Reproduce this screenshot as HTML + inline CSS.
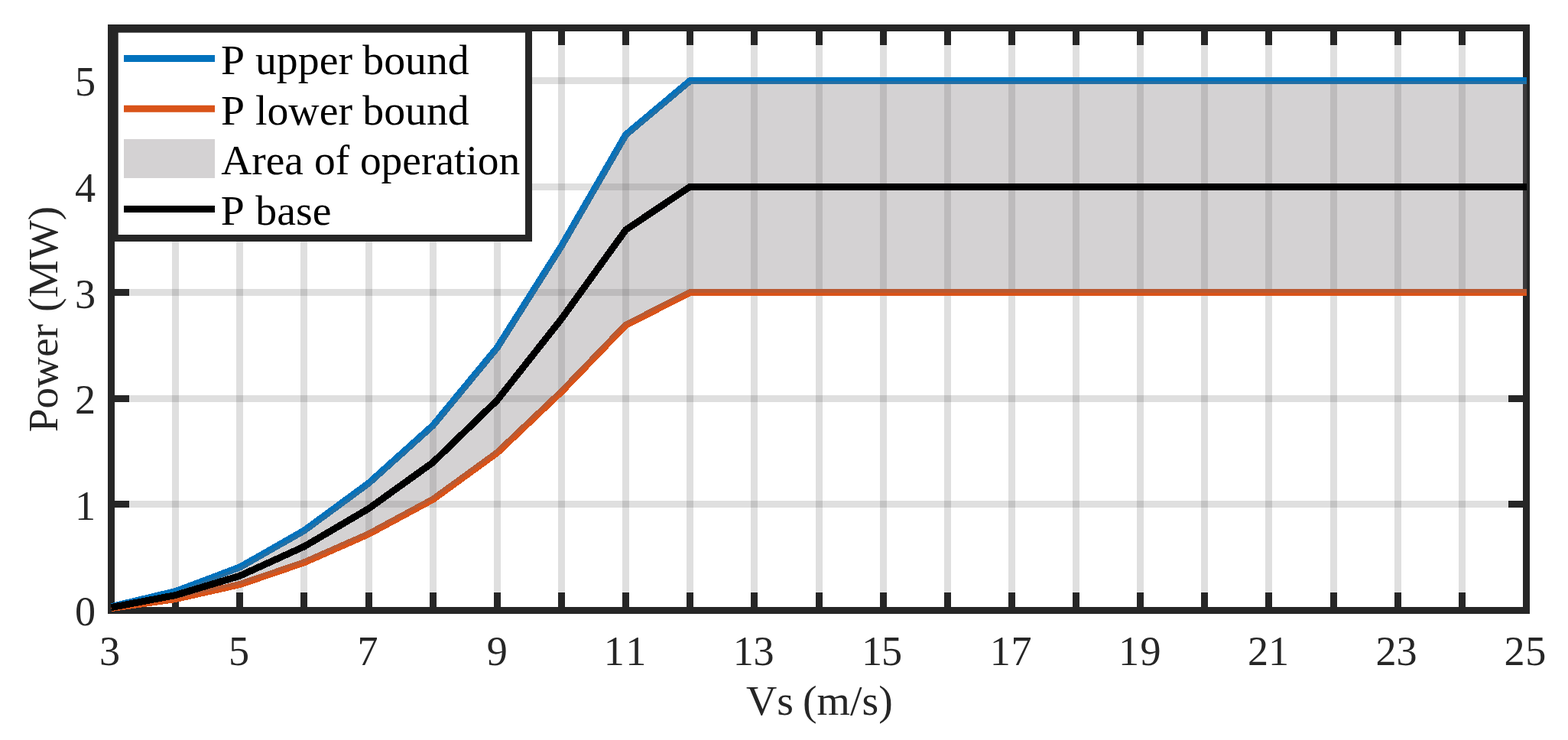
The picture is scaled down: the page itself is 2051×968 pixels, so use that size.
<!DOCTYPE html>
<html lang="en"><head><meta charset="utf-8"><title>Power vs wind speed</title>
<style>
html,body{margin:0;padding:0;background:#fff;}
body{width:2051px;height:968px;overflow:hidden;}
svg{display:block;}
text{font-family:"Liberation Serif","Times New Roman",serif;font-size:54.17px;white-space:pre;}
.tk{fill:#262626;}
.lg{fill:#000;}
</style></head><body>
<svg width="2051" height="968" viewBox="0 0 2051 968">
<rect width="2051" height="968" fill="#fff"/>
<g stroke="#262626" stroke-opacity="0.15" stroke-width="9" fill="none">
<line x1="229.5" y1="36.5" x2="229.5" y2="798.5"/>
<line x1="313.5" y1="36.5" x2="313.5" y2="798.5"/>
<line x1="397.5" y1="36.5" x2="397.5" y2="798.5"/>
<line x1="482.5" y1="36.5" x2="482.5" y2="798.5"/>
<line x1="566.5" y1="36.5" x2="566.5" y2="798.5"/>
<line x1="650.5" y1="36.5" x2="650.5" y2="798.5"/>
<line x1="734.5" y1="36.5" x2="734.5" y2="798.5"/>
<line x1="818.5" y1="36.5" x2="818.5" y2="798.5"/>
<line x1="902.5" y1="36.5" x2="902.5" y2="798.5"/>
<line x1="986.5" y1="36.5" x2="986.5" y2="798.5"/>
<line x1="1071.5" y1="36.5" x2="1071.5" y2="798.5"/>
<line x1="1155.5" y1="36.5" x2="1155.5" y2="798.5"/>
<line x1="1239.5" y1="36.5" x2="1239.5" y2="798.5"/>
<line x1="1323.5" y1="36.5" x2="1323.5" y2="798.5"/>
<line x1="1407.5" y1="36.5" x2="1407.5" y2="798.5"/>
<line x1="1491.5" y1="36.5" x2="1491.5" y2="798.5"/>
<line x1="1575.5" y1="36.5" x2="1575.5" y2="798.5"/>
<line x1="1659.5" y1="36.5" x2="1659.5" y2="798.5"/>
<line x1="1744.5" y1="36.5" x2="1744.5" y2="798.5"/>
<line x1="1828.5" y1="36.5" x2="1828.5" y2="798.5"/>
<line x1="1912.5" y1="36.5" x2="1912.5" y2="798.5"/>
<line x1="145.5" y1="659.5" x2="1996.5" y2="659.5"/>
<line x1="145.5" y1="521.5" x2="1996.5" y2="521.5"/>
<line x1="145.5" y1="382.5" x2="1996.5" y2="382.5"/>
<line x1="145.5" y1="244.5" x2="1996.5" y2="244.5"/>
<line x1="145.5" y1="105.5" x2="1996.5" y2="105.5"/>
</g>
<g stroke="#262626" stroke-width="9" fill="none">
<line x1="229.5" y1="798.5" x2="229.5" y2="775.0"/>
<line x1="229.5" y1="36.5" x2="229.5" y2="59.0"/>
<line x1="313.5" y1="798.5" x2="313.5" y2="775.0"/>
<line x1="313.5" y1="36.5" x2="313.5" y2="59.0"/>
<line x1="397.5" y1="798.5" x2="397.5" y2="775.0"/>
<line x1="397.5" y1="36.5" x2="397.5" y2="59.0"/>
<line x1="482.5" y1="798.5" x2="482.5" y2="775.0"/>
<line x1="482.5" y1="36.5" x2="482.5" y2="59.0"/>
<line x1="566.5" y1="798.5" x2="566.5" y2="775.0"/>
<line x1="566.5" y1="36.5" x2="566.5" y2="59.0"/>
<line x1="650.5" y1="798.5" x2="650.5" y2="775.0"/>
<line x1="650.5" y1="36.5" x2="650.5" y2="59.0"/>
<line x1="734.5" y1="798.5" x2="734.5" y2="775.0"/>
<line x1="734.5" y1="36.5" x2="734.5" y2="59.0"/>
<line x1="818.5" y1="798.5" x2="818.5" y2="775.0"/>
<line x1="818.5" y1="36.5" x2="818.5" y2="59.0"/>
<line x1="902.5" y1="798.5" x2="902.5" y2="775.0"/>
<line x1="902.5" y1="36.5" x2="902.5" y2="59.0"/>
<line x1="986.5" y1="798.5" x2="986.5" y2="775.0"/>
<line x1="986.5" y1="36.5" x2="986.5" y2="59.0"/>
<line x1="1071.5" y1="798.5" x2="1071.5" y2="775.0"/>
<line x1="1071.5" y1="36.5" x2="1071.5" y2="59.0"/>
<line x1="1155.5" y1="798.5" x2="1155.5" y2="775.0"/>
<line x1="1155.5" y1="36.5" x2="1155.5" y2="59.0"/>
<line x1="1239.5" y1="798.5" x2="1239.5" y2="775.0"/>
<line x1="1239.5" y1="36.5" x2="1239.5" y2="59.0"/>
<line x1="1323.5" y1="798.5" x2="1323.5" y2="775.0"/>
<line x1="1323.5" y1="36.5" x2="1323.5" y2="59.0"/>
<line x1="1407.5" y1="798.5" x2="1407.5" y2="775.0"/>
<line x1="1407.5" y1="36.5" x2="1407.5" y2="59.0"/>
<line x1="1491.5" y1="798.5" x2="1491.5" y2="775.0"/>
<line x1="1491.5" y1="36.5" x2="1491.5" y2="59.0"/>
<line x1="1575.5" y1="798.5" x2="1575.5" y2="775.0"/>
<line x1="1575.5" y1="36.5" x2="1575.5" y2="59.0"/>
<line x1="1659.5" y1="798.5" x2="1659.5" y2="775.0"/>
<line x1="1659.5" y1="36.5" x2="1659.5" y2="59.0"/>
<line x1="1744.5" y1="798.5" x2="1744.5" y2="775.0"/>
<line x1="1744.5" y1="36.5" x2="1744.5" y2="59.0"/>
<line x1="1828.5" y1="798.5" x2="1828.5" y2="775.0"/>
<line x1="1828.5" y1="36.5" x2="1828.5" y2="59.0"/>
<line x1="1912.5" y1="798.5" x2="1912.5" y2="775.0"/>
<line x1="1912.5" y1="36.5" x2="1912.5" y2="59.0"/>
<line x1="145.5" y1="659.5" x2="169.0" y2="659.5"/>
<line x1="1996.5" y1="659.5" x2="1973.0" y2="659.5"/>
<line x1="145.5" y1="521.5" x2="169.0" y2="521.5"/>
<line x1="1996.5" y1="521.5" x2="1973.0" y2="521.5"/>
<line x1="145.5" y1="382.5" x2="169.0" y2="382.5"/>
<line x1="145.5" y1="244.5" x2="169.0" y2="244.5"/>
<line x1="145.5" y1="105.5" x2="169.0" y2="105.5"/>
<rect x="145.5" y="36.5" width="1851.0" height="762.0"/>
</g>
<clipPath id="c"><rect x="145.0" y="36.0" width="1852.0" height="768.0"/></clipPath>
<g clip-path="url(#c)" fill="none" stroke-width="9" stroke-linejoin="round" shape-rendering="crispEdges">
<polyline stroke="#0072BD" points="145.50,793.65 229.64,773.55 313.77,741.95 397.91,694.00 482.05,632.18 566.18,556.64 650.32,454.77 734.45,321.72 818.59,176.19 902.73,105.50 986.86,105.50 1071.00,105.50 1155.14,105.50 1239.27,105.50 1323.41,105.50 1407.55,105.50 1491.68,105.50 1575.82,105.50 1659.95,105.50 1744.09,105.50 1828.23,105.50 1912.36,105.50 1996.50,105.50"/>
<polyline stroke="#D95319" points="145.50,795.59 229.64,783.53 313.77,764.57 397.91,735.80 482.05,698.71 566.18,653.39 650.32,592.26 734.45,512.43 818.59,425.11 902.73,382.70 986.86,382.70 1071.00,382.70 1155.14,382.70 1239.27,382.70 1323.41,382.70 1407.55,382.70 1491.68,382.70 1575.82,382.70 1659.95,382.70 1744.09,382.70 1828.23,382.70 1912.36,382.70 1996.50,382.70"/>
<polygon fill="rgb(112,105,110)" fill-opacity="0.3" stroke="none" points="145.50,793.65 229.64,773.55 313.77,741.95 397.91,694.00 482.05,632.18 566.18,556.64 650.32,454.77 734.45,321.72 818.59,176.19 902.73,105.50 986.86,105.50 1071.00,105.50 1155.14,105.50 1239.27,105.50 1323.41,105.50 1407.55,105.50 1491.68,105.50 1575.82,105.50 1659.95,105.50 1744.09,105.50 1828.23,105.50 1912.36,105.50 1996.50,105.50 1996.50,382.70 1912.36,382.70 1828.23,382.70 1744.09,382.70 1659.95,382.70 1575.82,382.70 1491.68,382.70 1407.55,382.70 1323.41,382.70 1239.27,382.70 1155.14,382.70 1071.00,382.70 986.86,382.70 902.73,382.70 818.59,425.11 734.45,512.43 650.32,592.26 566.18,653.39 482.05,698.71 397.91,735.80 313.77,764.57 229.64,783.53 145.50,795.59"/>
<polyline stroke="#000" points="145.50,794.62 229.64,778.54 313.77,753.26 397.91,714.90 482.05,665.44 566.18,605.01 650.32,523.52 734.45,417.07 818.59,300.65 902.73,244.10 986.86,244.10 1071.00,244.10 1155.14,244.10 1239.27,244.10 1323.41,244.10 1407.55,244.10 1491.68,244.10 1575.82,244.10 1659.95,244.10 1744.09,244.10 1828.23,244.10 1912.36,244.10 1996.50,244.10"/>
</g>
<rect x="150.2" y="38.2" width="541.3" height="273.3" fill="#fff" stroke="#262626" stroke-width="9"/>
<line x1="162" y1="76.5" x2="281" y2="76.5" stroke="#0072BD" stroke-width="9"/>
<line x1="162" y1="142.2" x2="281" y2="142.2" stroke="#D95319" stroke-width="9"/>
<rect x="162" y="182" width="119" height="51" fill="rgb(112,105,110)" fill-opacity="0.3"/>
<line x1="162" y1="273.6" x2="281" y2="273.6" stroke="#000" stroke-width="9"/>
<text class="lg" transform="translate(0,97.1) scale(1.03,1)"><tspan x="280.49">P</tspan> <tspan x="324.27">upper</tspan> <tspan x="460.49">bound</tspan></text>
<text class="lg" transform="translate(0,162.8) scale(1.03,1)"><tspan x="280.49">P</tspan> <tspan x="324.27">lower</tspan> <tspan x="460.49">bound</tspan></text>
<text class="lg" transform="translate(0,228.4) scale(1.024,1)"><tspan x="282.42">Area</tspan> <tspan x="401.46">of</tspan> <tspan x="459.86">operation</tspan></text>
<text class="lg" transform="translate(0,293.9) scale(1.03,1)"><tspan x="280.39">P</tspan> <tspan x="324.56">base</tspan></text>
<text class="tk" x="129.90" y="869.7">3</text>
<text class="tk" x="299.00" y="869.7">5</text>
<text class="tk" x="467.45" y="869.7">7</text>
<text class="tk" x="636.75" y="869.7">9</text>
<text class="tk" x="789.65 818.25" y="869.7">11</text>
<text class="tk" x="958.75 985.50" y="869.7">13</text>
<text class="tk" x="1126.95 1153.10" y="869.7">15</text>
<text class="tk" x="1294.85 1322.55" y="869.7">17</text>
<text class="tk" x="1463.00 1491.55" y="869.7">19</text>
<text class="tk" x="1632.00 1659.00" y="869.7">21</text>
<text class="tk" x="1799.45 1826.40" y="869.7">23</text>
<text class="tk" x="1967.40 1995.15" y="869.7">25</text>
<text class="tk" text-anchor="end" x="125" y="818.30">0</text>
<text class="tk" text-anchor="end" x="125" y="679.70">1</text>
<text class="tk" text-anchor="end" x="125" y="541.10">2</text>
<text class="tk" text-anchor="end" x="125" y="402.50">3</text>
<text class="tk" text-anchor="end" x="125" y="263.90">4</text>
<text class="tk" text-anchor="end" x="125" y="125.30">5</text>
<text class="tk" transform="translate(0,935.2) scale(1.03,1)"><tspan x="947.67">Vs</tspan> <tspan x="1019.42">(m/s)</tspan></text>
<text class="tk" transform="translate(74.8,600) rotate(-90) scale(1.021,1)"><tspan x="33.99">Power</tspan> <tspan x="188.15">(MW)</tspan></text>
</svg></body></html>
